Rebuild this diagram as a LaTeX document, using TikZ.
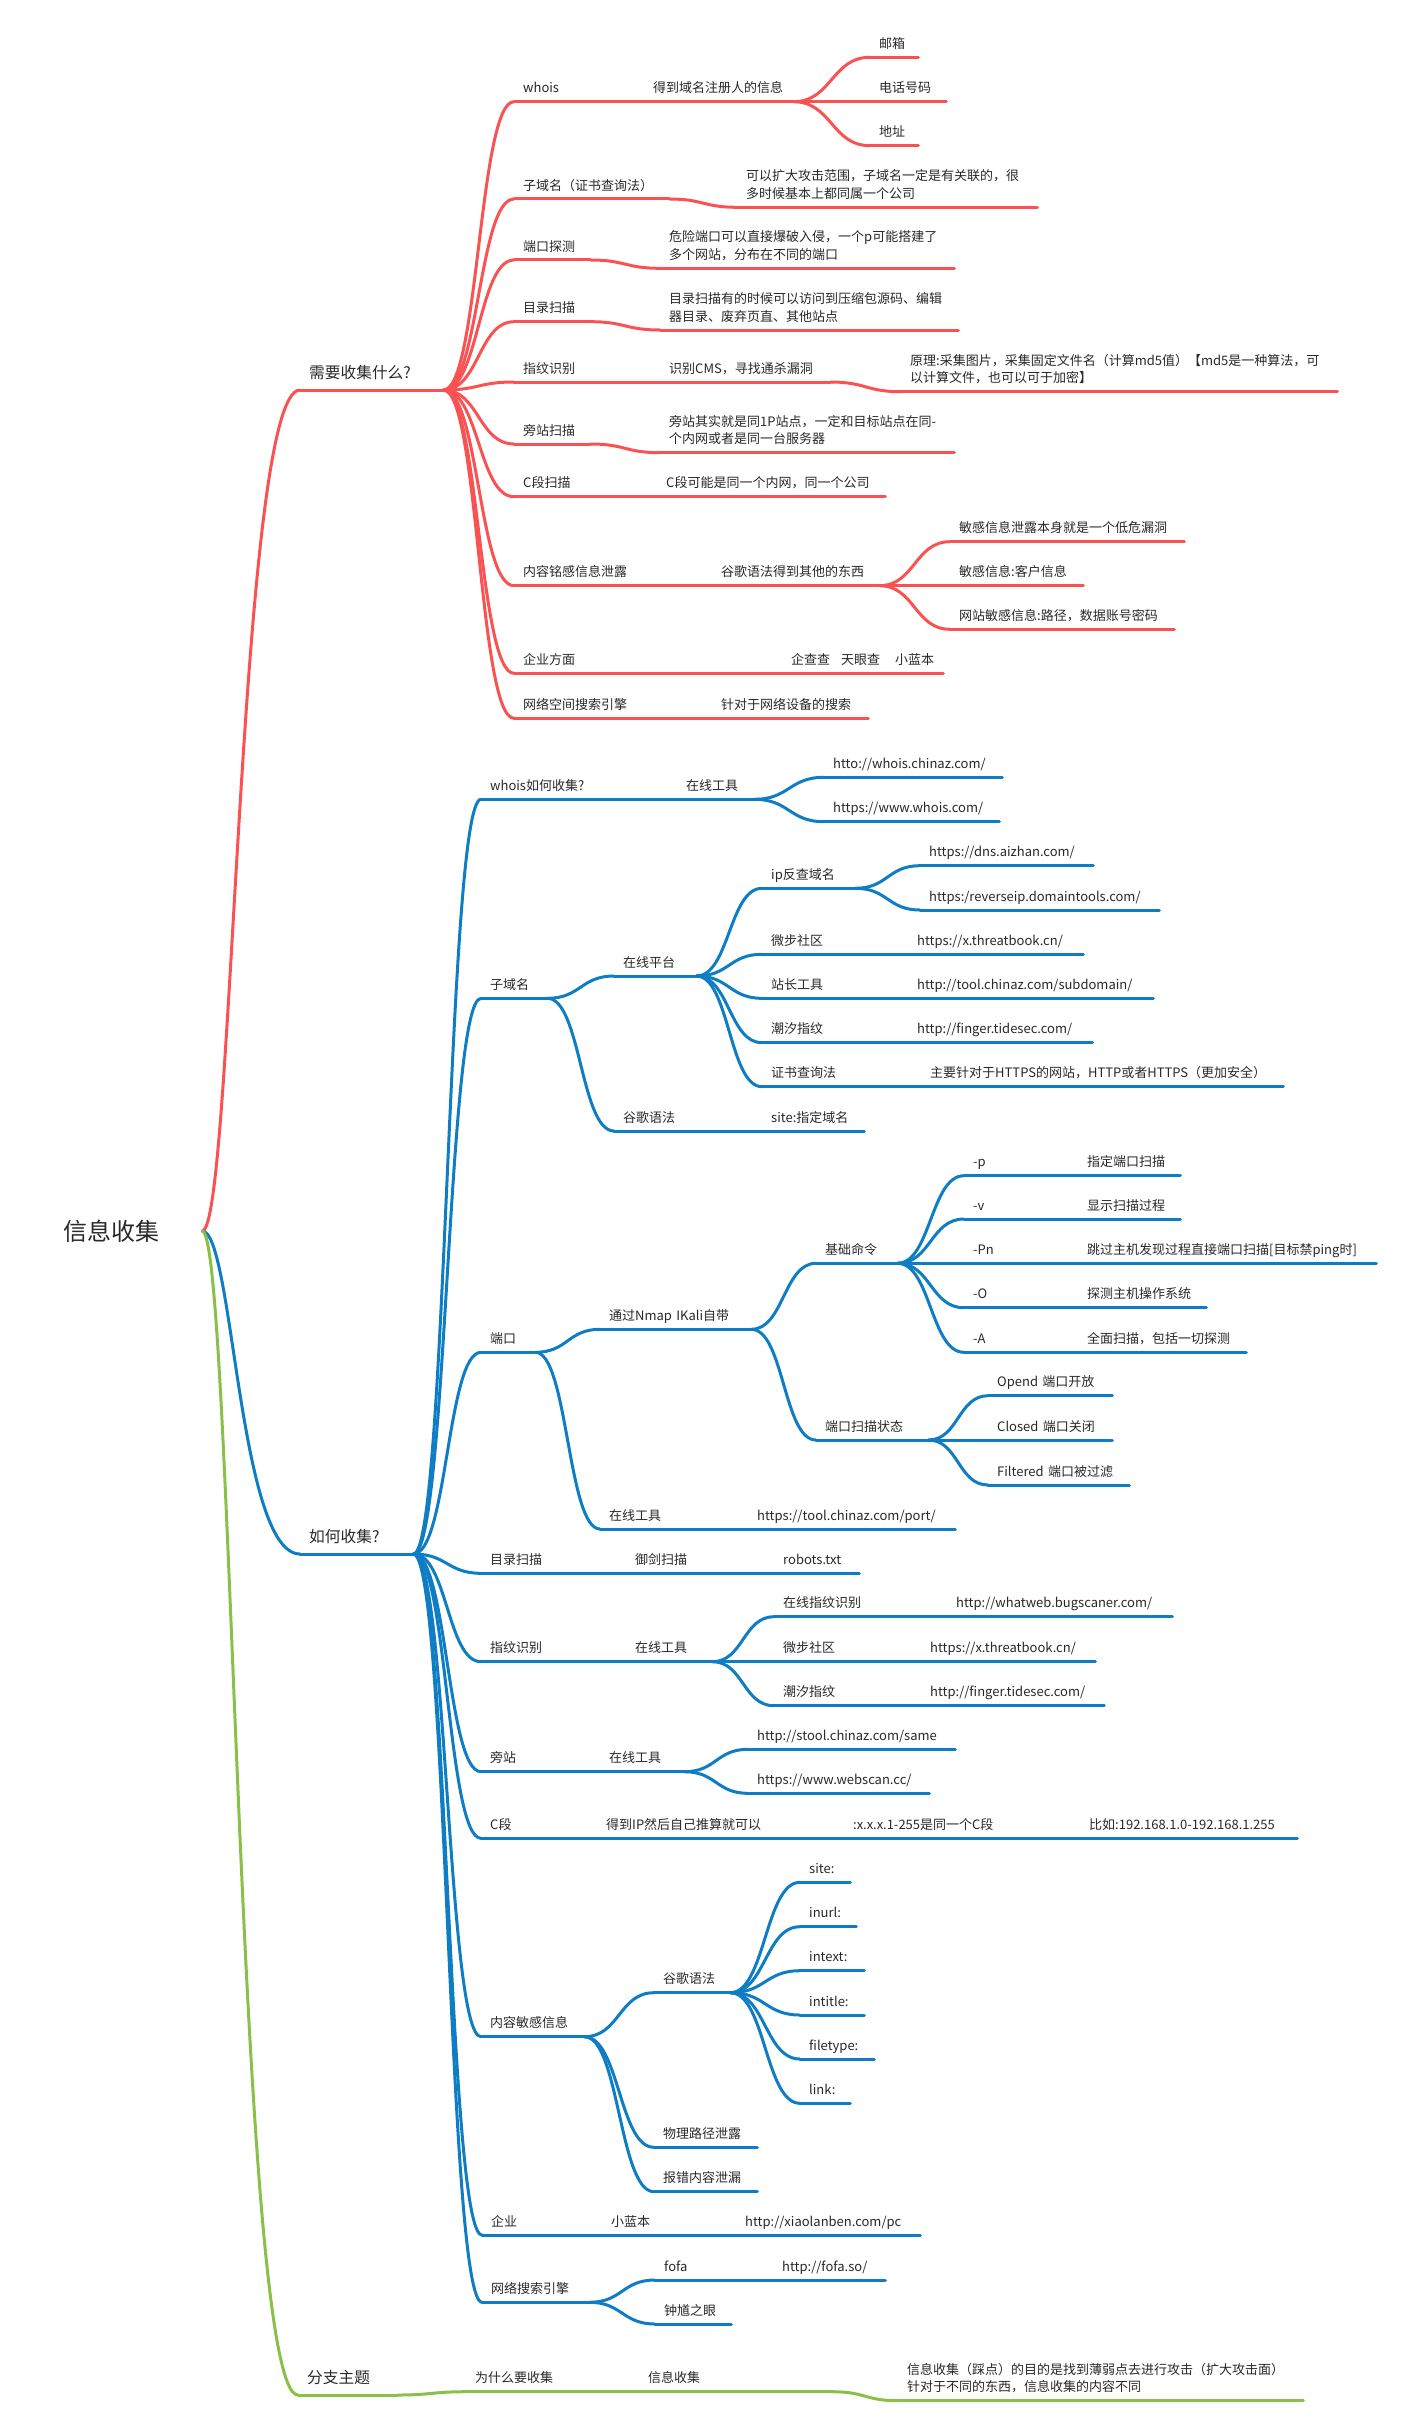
\documentclass[tikz,border=0pt]{standalone}
\usepackage{fontspec}
\setmainfont{Noto Sans CJK SC}
\usetikzlibrary{calc}

\definecolor{mmred}{RGB}{250,82,82}
\definecolor{mmblue}{RGB}{14,125,196}
\definecolor{mmgreen}{RGB}{137,193,72}
\definecolor{mmtxt}{RGB}{40,40,40}

\tikzset{
  mmline/.style={line width=3pt, line cap=round},
  link/.style={to path={let \p1=(\tikztostart), \p2=(\tikztotarget) in
      .. controls ({0.5*\x1+0.5*\x2},\y1) and ({0.5*\x1+0.5*\x2},\y2) .. (\p2)}},
  rootlink/.style={to path={let \p1=(\tikztostart), \p2=(\tikztotarget) in
      .. controls ({\x1+0.32*(\x2-\x1)},\y1) and ({\x1+0.37*(\x2-\x1)},\y2) .. (\p2)}},
  uw/.style={text width=#1pt-18pt},
  topic/.style={anchor=south west, inner xsep=9pt, align=left, text=mmtxt,
      execute at end node=\strut,
      append after command={(\tikzlastnode.south west) edge[mmline, draw=#1] (\tikzlastnode.south east)}},
  l1/.style={topic=#1, inner ysep=4.7pt, font=\fontsize{15.7}{21}\selectfont},
  l2/.style={topic=#1, inner ysep=3.4pt, font=\fontsize{13}{17.5}\selectfont},
  root/.style={inner xsep=43pt, text=mmtxt, font=\fontsize{24}{28}\selectfont},
}

\begin{document}
\begin{tikzpicture}[x=1pt, y=-1pt]
  \useasboundingbox (0,0) rectangle (1401,2432);

  % Add the root
  \node[root] (root) at (111,1231) {信息收集};

  % Add the first branch
  \node[l1=mmred, uw=143] (need) at (300,390) {需要收集什么?};
  \node[l2=mmred, uw=61]  (n1)   at (514,101.7) {whois};
  \node[l2=mmred, uw=149] (n1a)  at (644,101.7) {得到域名注册人的信息};
  \node[l2=mmred, uw=48]  (n1a1) at (870,57.3)  {邮箱};
  \node[l2=mmred, uw=76]  (n1a2) at (870,101.7) {电话号码};
  \node[l2=mmred, uw=48]  (n1a3) at (870,145.7) {地址};
  \node[l2=mmred, uw=155] (n2)   at (514,199)   {子域名（证书查询法）};
  \node[l2=mmred, uw=300] (n2a)  at (737,207.3) {可以扩大攻击范围，子域名一定是有关联的，很\\多时候基本上都同属一个公司};
  \node[l2=mmred, uw=76]  (n3)   at (514,260)   {端口探测};
  \node[l2=mmred, uw=294] (n3a)  at (660,268.3) {危险端口可以直接爆破入侵，一个p可能搭建了\\多个网站，分布在不同的端口};
  \node[l2=mmred, uw=76]  (n4)   at (514,321.7) {目录扫描};
  \node[l2=mmred, uw=298] (n4a)  at (660,330)   {目录扫描有的时候可以访问到压缩包源码、编辑\\器目录、废弃页直、其他站点};
  \node[l2=mmred, uw=76]  (n5)   at (514,382)   {指纹识别};
  \node[l2=mmred, uw=170] (n5a)  at (660,382)   {识别CMS，寻找通杀漏洞};
  \node[l2=mmred, uw=436] (n5b)  at (901,391.7) {原理:采集图片，采集固定文件名（计算md5值）【md5是一种算法，可\\以计算文件，也可以可于加密】};
  \node[l2=mmred, uw=76]  (n6)   at (514,444)   {旁站扫描};
  \node[l2=mmred, uw=294] (n6a)  at (660,452.7) {旁站其实就是同1P站点，一定和目标站点在同-\\个内网或者是同一台服务器};
  \node[l2=mmred, uw=70]  (n7)   at (514,496.7) {C段扫描};
  \node[l2=mmred, uw=228] (n7a)  at (657,496.7) {C段可能是同一个内网，同一个公司};
  \node[l2=mmred, uw=128] (n8)   at (514,585.7) {内容铭感信息泄露};
  \node[l2=mmred, uw=167] (n8a)  at (712,585.7) {谷歌语法得到其他的东西};
  \node[l2=mmred, uw=234] (n8a1) at (950,541.7) {敏感信息泄露本身就是一个低危漏洞};
  \node[l2=mmred, uw=133] (n8a2) at (950,585.7) {敏感信息:客户信息};
  \node[l2=mmred, uw=224] (n8a3) at (950,629.3) {网站敏感信息:路径，数据账号密码};
  \node[l2=mmred, uw=76]  (n9)   at (514,673.3) {企业方面};
  \node[l2=mmred, uw=241, align=right] (n9a) at (702,673.3) {企查查\hspace{11pt}天眼查\hspace{15pt}小蓝本};
  \node[l2=mmred, uw=126] (n10)  at (514,718.3) {网络空间搜索引擎};
  \node[l2=mmred, uw=156] (n10a) at (712,718.3) {针对于网络设备的搜索};

  % Add the second branch
  \node[l1=mmblue, uw=113] (how) at (300,1554) {如何收集?};
  \node[l2=mmblue, uw=124] (h1)    at (481,799.3) {whois如何收集?};
  \node[l2=mmblue, uw=77]  (h1a)   at (677,799.3) {在线工具};
  \node[l2=mmblue, uw=178] (h1a1)  at (824,777.3) {htto://whois.chinaz.com/};
  \node[l2=mmblue, uw=175] (h1a2)  at (824,821.7) {https://www.whois.com/};
  \node[l2=mmblue, uw=66]  (h2)    at (481,998.3) {子域名};
  \node[l2=mmblue, uw=82]  (h2a)   at (614,976)   {在线平台};
  \node[l2=mmblue, uw=93]  (h2a1)  at (762,888.3) {ip反查域名};
  \node[l2=mmblue, uw=173] (h2a1a) at (920,865.7) {https://dns.aizhan.com/};
  \node[l2=mmblue, uw=239] (h2a1b) at (920,910)   {https:/reverseip.domaintools.com/};
  \node[l2=mmblue, uw=111] (h2a2)  at (762,954.3) {微步社区};
  \node[l2=mmblue, uw=175] (h2a2a) at (908,954.3) {https://x.threatbook.cn/};
  \node[l2=mmblue, uw=111] (h2a3)  at (762,998.3) {站长工具};
  \node[l2=mmblue, uw=245] (h2a3a) at (908,998.3) {http://tool.chinaz.com/subdomain/};
  \node[l2=mmblue, uw=111] (h2a4)  at (762,1042.7) {潮汐指纹};
  \node[l2=mmblue, uw=184] (h2a4a) at (908,1042.7) {http://finger.tidesec.com/};
  \node[l2=mmblue, uw=118] (h2a5)  at (762,1086.7) {证书查询法};
  \node[l2=mmblue, uw=362] (h2a5a) at (921,1086.7) {主要针对于HTTPS的网站，HTTP或者HTTPS（更加安全）};
  \node[l2=mmblue, uw=76]  (h2b)   at (614,1131)  {谷歌语法};
  \node[l2=mmblue, uw=102] (h2b1)  at (762,1131)  {site:指定域名};
  \node[l2=mmblue, uw=54]  (h3)    at (481,1352.3) {端口};
  \node[l2=mmblue, uw=151] (h3a)   at (600,1329.3) {通过Nmap~IKali自带};
  \node[l2=mmblue, uw=81]  (h3a1)  at (816,1263.3) {基础命令};
  \node[l2=mmblue, uw=76]  (p1)    at (964,1175.7) {-p};
  \node[l2=mmblue, uw=102] (p1a)   at (1078,1175.7) {指定端口扫描};
  \node[l2=mmblue, uw=76]  (p2)    at (964,1219)   {-v};
  \node[l2=mmblue, uw=102] (p2a)   at (1078,1219)  {显示扫描过程};
  \node[l2=mmblue, uw=76]  (p3)    at (964,1263.3) {-Pn};
  \node[l2=mmblue, uw=298] (p3a)   at (1078,1263.3) {跳过主机发现过程直接端口扫描[目标禁ping时]};
  \node[l2=mmblue, uw=76]  (p4)    at (964,1307.7) {-O};
  \node[l2=mmblue, uw=128] (p4a)   at (1078,1307.7) {探测主机操作系统};
  \node[l2=mmblue, uw=76]  (p5)    at (964,1352.3) {-A};
  \node[l2=mmblue, uw=168] (p5a)   at (1078,1352.3) {全面扫描，包括一切探测};
  \node[l2=mmblue, uw=112] (h3a2)  at (816,1440)  {端口扫描状态};
  \node[l2=mmblue, uw=124] (s1)    at (988,1395.7) {Opend~端口开放};
  \node[l2=mmblue, uw=124] (s2)    at (988,1440)   {Closed~端口关闭};
  \node[l2=mmblue, uw=141] (s3)    at (988,1485)   {Filtered~端口被过滤};
  \node[l2=mmblue, uw=78]  (h3b)   at (600,1529)  {在线工具};
  \node[l2=mmblue, uw=207] (h3b1)  at (748,1529)  {https://tool.chinaz.com/port/};
  \node[l2=mmblue, uw=76]  (h4)    at (481,1573.3) {目录扫描};
  \node[l2=mmblue, uw=76]  (h4a)   at (626,1573.3) {御剑扫描};
  \node[l2=mmblue, uw=85]  (h4a1)  at (774,1573.3) {robots.txt};
  \node[l2=mmblue, uw=76]  (h5)    at (481,1661.7) {指纹识别};
  \node[l2=mmblue, uw=86]  (h5a)   at (626,1661.7) {在线工具};
  \node[l2=mmblue, uw=102] (h5a1)  at (774,1616.7) {在线指纹识别};
  \node[l2=mmblue, uw=225] (h5a1a) at (947,1616.7) {http://whatweb.bugscaner.com/};
  \node[l2=mmblue, uw=86]  (h5a2)  at (774,1661.7) {微步社区};
  \node[l2=mmblue, uw=174] (h5a2a) at (921,1661.7) {https://x.threatbook.cn/};
  \node[l2=mmblue, uw=86]  (h5a3)  at (774,1705.7) {潮汐指纹};
  \node[l2=mmblue, uw=183] (h5a3a) at (921,1705.7) {http://finger.tidesec.com/};
  \node[l2=mmblue, uw=51]  (h6)    at (481,1771.7) {旁站};
  \node[l2=mmblue, uw=84]  (h6a)   at (600,1771.7) {在线工具};
  \node[l2=mmblue, uw=207] (h6a1)  at (748,1749.3) {http://stool.chinaz.com/same};
  \node[l2=mmblue, uw=181] (h6a2)  at (748,1793.3) {https://www.webscan.cc/};
  \node[l2=mmblue, uw=45]  (h7)    at (481,1838.3) {C段};
  \node[l2=mmblue, uw=175] (h7a)   at (597,1838.3) {得到IP然后自己推算就可以};
  \node[l2=mmblue, uw=166] (h7b)   at (844,1838.3) {:x.x.x.1-255是同一个C段};
  \node[l2=mmblue, uw=217] (h7c)   at (1080,1838.3) {比如:192.168.1.0-192.168.1.255};
  \node[l2=mmblue, uw=103] (h8)    at (481,2036.7) {内容敏感信息};
  \node[l2=mmblue, uw=76]  (h8a)   at (654,1992.7) {谷歌语法};
  \node[l2=mmblue, uw=50]  (g1)    at (800,1882.3) {site:};
  \node[l2=mmblue, uw=56]  (g2)    at (800,1926.7) {inurl:};
  \node[l2=mmblue, uw=64]  (g3)    at (800,1970.7) {intext:};
  \node[l2=mmblue, uw=64]  (g4)    at (800,2015)   {intitle:};
  \node[l2=mmblue, uw=74]  (g5)    at (800,2059)   {filetype:};
  \node[l2=mmblue, uw=50]  (g6)    at (800,2103.3) {link:};
  \node[l2=mmblue, uw=103] (h8b)   at (654,2147.3) {物理路径泄露};
  \node[l2=mmblue, uw=103] (h8c)   at (654,2191.7) {报错内容泄漏};
  \node[l2=mmblue, uw=50]  (h9)    at (482,2235)  {企业};
  \node[l2=mmblue, uw=66]  (h9a)   at (602,2235)  {小蓝本};
  \node[l2=mmblue, uw=184] (h9a1)  at (736,2235)  {http://xiaolanben.com/pc};
  \node[l2=mmblue, uw=107] (h10)   at (482,2302.3) {网络搜索引擎};
  \node[l2=mmblue, uw=48]  (h10a)  at (655,2280)  {fofa};
  \node[l2=mmblue, uw=112] (h10a1) at (773,2280)  {http://fofa.so/};
  \node[l2=mmblue, uw=76]  (h10b)  at (655,2324)  {钟馗之眼};

  % Add the third branch
  \node[l1=mmgreen, uw=99]  (other) at (298,2395)   {分支主题};
  \node[l2=mmgreen, uw=102] (o1)    at (466,2391.7) {为什么要收集};
  \node[l2=mmgreen, uw=193] (o1a)   at (639,2391.7) {信息收集};
  \node[l2=mmgreen, uw=405] (o1a1)  at (898,2400.7) {信息收集（踩点）的目的是找到薄弱点去进行攻击（扩大攻击面）\\针对于不同的东西，信息收集的内容不同};

  % Connect the root
  \draw[mmline, mmred]   (root.east) edge[rootlink] (need.south west);
  \draw[mmline, mmblue]  (root.east) edge[rootlink] (how.south west);
  \draw[mmline, mmgreen] (root.east) edge[rootlink] (other.south west);

  % Connect the first branch
  \draw[mmline, mmred]
    (need.south east) edge[link] (n1.south west)
    (need.south east) edge[link] (n2.south west)
    (need.south east) edge[link] (n3.south west)
    (need.south east) edge[link] (n4.south west)
    (need.south east) edge[link] (n5.south west)
    (need.south east) edge[link] (n6.south west)
    (need.south east) edge[link] (n7.south west)
    (need.south east) edge[link] (n8.south west)
    (need.south east) edge[link] (n9.south west)
    (need.south east) edge[link] (n10.south west)
    (n1.south east) edge[link] (n1a.south west)
    (n1a.south east) edge[link] (n1a1.south west)
    (n1a.south east) edge[link] (n1a2.south west)
    (n1a.south east) edge[link] (n1a3.south west)
    (n2.south east) edge[link] (n2a.south west)
    (n3.south east) edge[link] (n3a.south west)
    (n4.south east) edge[link] (n4a.south west)
    (n5.south east) edge[link] (n5a.south west)
    (n5a.south east) edge[link] (n5b.south west)
    (n6.south east) edge[link] (n6a.south west)
    (n7.south east) edge[link] (n7a.south west)
    (n8.south east) edge[link] (n8a.south west)
    (n8a.south east) edge[link] (n8a1.south west)
    (n8a.south east) edge[link] (n8a2.south west)
    (n8a.south east) edge[link] (n8a3.south west)
    (n9.south east) edge[link] (n9a.south west)
    (n10.south east) edge[link] (n10a.south west);

  % Connect the second branch
  \draw[mmline, mmblue]
    (how.south east) edge[link] (h1.south west)
    (how.south east) edge[link] (h2.south west)
    (how.south east) edge[link] (h3.south west)
    (how.south east) edge[link] (h4.south west)
    (how.south east) edge[link] (h5.south west)
    (how.south east) edge[link] (h6.south west)
    (how.south east) edge[link] (h7.south west)
    (how.south east) edge[link] (h8.south west)
    (how.south east) edge[link] (h9.south west)
    (how.south east) edge[link] (h10.south west)
    (h1.south east) edge[link] (h1a.south west)
    (h1a.south east) edge[link] (h1a1.south west)
    (h1a.south east) edge[link] (h1a2.south west)
    (h2.south east) edge[link] (h2a.south west)
    (h2.south east) edge[link] (h2b.south west)
    (h2a.south east) edge[link] (h2a1.south west)
    (h2a.south east) edge[link] (h2a2.south west)
    (h2a.south east) edge[link] (h2a3.south west)
    (h2a.south east) edge[link] (h2a4.south west)
    (h2a.south east) edge[link] (h2a5.south west)
    (h2a1.south east) edge[link] (h2a1a.south west)
    (h2a1.south east) edge[link] (h2a1b.south west)
    (h2a2.south east) edge[link] (h2a2a.south west)
    (h2a3.south east) edge[link] (h2a3a.south west)
    (h2a4.south east) edge[link] (h2a4a.south west)
    (h2a5.south east) edge[link] (h2a5a.south west)
    (h2b.south east) edge[link] (h2b1.south west)
    (h3.south east) edge[link] (h3a.south west)
    (h3.south east) edge[link] (h3b.south west)
    (h3a.south east) edge[link] (h3a1.south west)
    (h3a.south east) edge[link] (h3a2.south west)
    (h3a1.south east) edge[link] (p1.south west)
    (h3a1.south east) edge[link] (p2.south west)
    (h3a1.south east) edge[link] (p3.south west)
    (h3a1.south east) edge[link] (p4.south west)
    (h3a1.south east) edge[link] (p5.south west)
    (p1.south east) edge[link] (p1a.south west)
    (p2.south east) edge[link] (p2a.south west)
    (p3.south east) edge[link] (p3a.south west)
    (p4.south east) edge[link] (p4a.south west)
    (p5.south east) edge[link] (p5a.south west)
    (h3a2.south east) edge[link] (s1.south west)
    (h3a2.south east) edge[link] (s2.south west)
    (h3a2.south east) edge[link] (s3.south west)
    (h3b.south east) edge[link] (h3b1.south west)
    (h4.south east) edge[link] (h4a.south west)
    (h4a.south east) edge[link] (h4a1.south west)
    (h5.south east) edge[link] (h5a.south west)
    (h5a.south east) edge[link] (h5a1.south west)
    (h5a.south east) edge[link] (h5a2.south west)
    (h5a.south east) edge[link] (h5a3.south west)
    (h5a1.south east) edge[link] (h5a1a.south west)
    (h5a2.south east) edge[link] (h5a2a.south west)
    (h5a3.south east) edge[link] (h5a3a.south west)
    (h6.south east) edge[link] (h6a.south west)
    (h6a.south east) edge[link] (h6a1.south west)
    (h6a.south east) edge[link] (h6a2.south west)
    (h7.south east) edge[link] (h7a.south west)
    (h7a.south east) edge[link] (h7b.south west)
    (h7b.south east) edge[link] (h7c.south west)
    (h8.south east) edge[link] (h8a.south west)
    (h8.south east) edge[link] (h8b.south west)
    (h8.south east) edge[link] (h8c.south west)
    (h8a.south east) edge[link] (g1.south west)
    (h8a.south east) edge[link] (g2.south west)
    (h8a.south east) edge[link] (g3.south west)
    (h8a.south east) edge[link] (g4.south west)
    (h8a.south east) edge[link] (g5.south west)
    (h8a.south east) edge[link] (g6.south west)
    (h9.south east) edge[link] (h9a.south west)
    (h9a.south east) edge[link] (h9a1.south west)
    (h10.south east) edge[link] (h10a.south west)
    (h10.south east) edge[link] (h10b.south west)
    (h10a.south east) edge[link] (h10a1.south west);

  % Connect the third branch
  \draw[mmline, mmgreen]
    (other.south east) edge[link] (o1.south west)
    (o1.south east) edge[link] (o1a.south west)
    (o1a.south east) edge[link] (o1a1.south west);
\end{tikzpicture}
\end{document}
